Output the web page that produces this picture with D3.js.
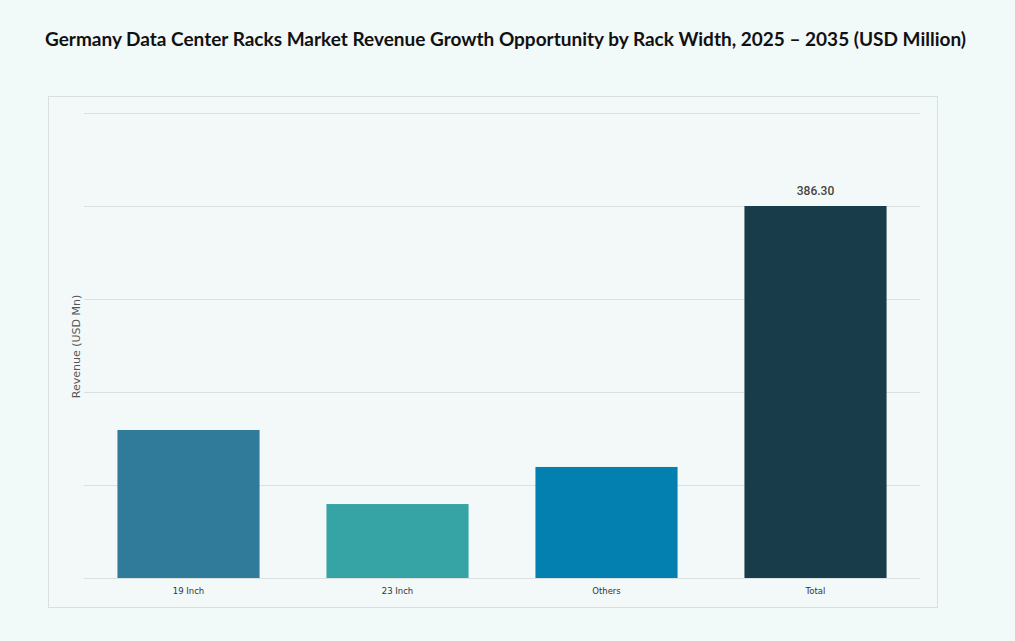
<!DOCTYPE html>
<html>
<head>
<meta charset="utf-8">
<script src="https://cdn.jsdelivr.net/npm/d3@7"></script>
<style>
  body { margin: 0; background: #f2f9f9; }
  svg { display: block; }
</style>
</head>
<body>
<div id="chart"></div>
<script>
// data
var categories = ["19 Inch", "23 Inch", "Others", "Total"];
var revenue = [153.7, 76.8, 115.3, 386.3];
var barColors = ["#307b99", "#36a4a4", "#0480b0", "#183c49"];
var labelled = ["Total"]; // only the total carries a value label

var W = 1015, H = 641;
var margin = {top: 113, right: 95, bottom: 63, left: 84};
var width = W - margin.left - margin.right;
var height = H - margin.top - margin.bottom;

var svg = d3.select("#chart").append("svg")
  .attr("width", W)
  .attr("height", H);

// title
svg.append("text")
  .attr("x", W / 2 - 2)
  .attr("y", 46)
  .attr("text-anchor", "middle")
  .style("font-family", "Lato, 'Open Sans', sans-serif")
  .style("font-weight", "bold")
  .style("font-size", "19px")
  .style("fill", "#111")
  .text("Germany Data Center Racks Market Revenue Growth Opportunity by Rack Width, 2025 \u2013 2035 (USD Million)");

// panel
svg.append("rect")
  .attr("x", 48.5)
  .attr("y", 96.5)
  .attr("width", 889)
  .attr("height", 511)
  .attr("fill", "#f3f9f9")
  .attr("stroke", "#d6e0e0");

var g = svg.append("g")
  .attr("transform", "translate(" + margin.left + "," + margin.top + ")");

var x = d3.scaleBand()
  .domain(categories)
  .range([0, width])
  .paddingInner(0.32)
  .paddingOuter(0.16);

// total sits on the 4th of 5 gridlines
var yMax = 386.3 * 5 / 4;
var y = d3.scaleLinear()
  .domain([0, yMax])
  .range([height, 0]);

var ticks = d3.range(0, 6).map(function (i) { return i * yMax / 5; });

// gridlines
g.append("g")
  .call(d3.axisLeft(y).tickValues(ticks).tickSize(-width).tickFormat(""))
  .call(function (a) {
    a.select(".domain").remove();
    a.selectAll(".tick line").attr("stroke", "#d9e1e1").attr("stroke-width", 1);
  });

// bars
g.selectAll(".bar")
  .data(categories)
  .enter()
  .append("rect")
  .attr("class", "bar")
  .attr("x", function (d) { return x(d); })
  .attr("width", x.bandwidth())
  .attr("y", function (d, i) { return y(revenue[i]); })
  .attr("height", function (d, i) { return height - y(revenue[i]); })
  .attr("fill", function (d, i) { return barColors[i]; });

// value label
g.selectAll(".val")
  .data(categories.filter(function (d) { return labelled.indexOf(d) >= 0; }))
  .enter()
  .append("text")
  .attr("class", "val")
  .attr("x", function (d) { return x(d) + x.bandwidth() / 2; })
  .attr("y", function (d) { return y(revenue[categories.indexOf(d)]) - 11; })
  .attr("text-anchor", "middle")
  .style("font-family", "Roboto, sans-serif")
  .style("font-size", "12px")
  .style("font-weight", "500")
  .style("fill", "#444")
  .text(function (d) { return revenue[categories.indexOf(d)].toFixed(2); });

// x axis labels
g.append("g")
  .attr("transform", "translate(0," + height + ")")
  .call(d3.axisBottom(x).tickSize(0).tickPadding(10))
  .call(function (a) {
    a.select(".domain").remove();
    a.selectAll("text")
      .style("font-family", "'DejaVu Sans', sans-serif")
      .style("font-size", "8.5px")
      .style("fill", "#333");
  });

// y axis title
svg.append("text")
  .attr("transform", "translate(80," + (margin.top + height / 2 + 1) + ") rotate(-90)")
  .attr("text-anchor", "middle")
  .style("font-family", "'DejaVu Sans', sans-serif")
  .style("font-size", "11px")
  .style("fill", "#555")
  .text("Revenue (USD Mn)");
</script>
</body>
</html>
